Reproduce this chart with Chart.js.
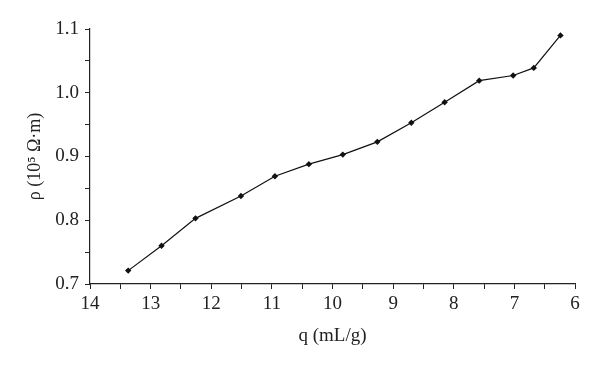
<!DOCTYPE html>
<html>
<head>
<meta charset="utf-8">
<script src="https://cdn.jsdelivr.net/npm/chart.js@4/dist/chart.umd.min.js"></script>
<style>
  html, body { margin: 0; padding: 0; background: #fff; }
  #wrap { width: 600px; height: 367px; }
</style>
</head>
<body>
<div id="wrap"><canvas id="rho-chart"></canvas></div>
<script>
// water content q (mL/g) and resistivity rho (10^5 ohm·m)
const qValues = [13.37, 12.82, 12.26, 11.51, 10.95, 10.39, 9.83, 9.26, 8.70, 8.15, 7.58, 7.02, 6.68, 6.24];
const rhoValues = [0.721, 0.760, 0.803, 0.838, 0.869, 0.888, 0.903, 0.923, 0.953, 0.985, 1.019, 1.027, 1.039, 1.090];
const xTickLabels = ['14', '13', '12', '11', '10', '9', '8', '7', '6'];
const yTickLabels = ['0.7', '0.8', '0.9', '1.0', '1.1'];

const points = qValues.map((q, i) => ({ x: q, y: rhoValues[i] }));
const serif = "'Liberation Serif', 'DejaVu Serif', serif";

const ctx = document.getElementById('rho-chart').getContext('2d');
new Chart(ctx, {
    type: 'scatter',
    data: {
        datasets: [{
            data: points,
            showLine: true,
            borderColor: '#111',
            borderWidth: 1.2,
            backgroundColor: '#111',
            pointStyle: 'rectRot',
            pointRadius: 3.2,
            pointBorderWidth: 0,
        }]
    },
    options: {
        responsive: true,
        maintainAspectRatio: false,
        animation: false,
        layout: { padding: { top: 29, right: 25, left: 20, bottom: 16 } },
        plugins: { legend: { display: false }, tooltip: { enabled: false } },
        scales: {
            x: {
                type: 'linear',
                reverse: true,
                min: 6,
                max: 14,
                grid: { display: true, drawOnChartArea: false, drawTicks: true, tickLength: 5, color: '#222', lineWidth: 1 },
                border: { color: '#222', width: 1.2 },
                afterFit: (axis) => { axis.height = 67; },
                ticks: {
                    stepSize: 0.5,
                    autoSkip: false,
                    maxRotation: 0,
                    color: '#222',
                    padding: 4,
                    font: { family: serif, size: 19 },
                    callback: (v) => {
                        const label = String(v);
                        return xTickLabels.includes(label) ? label : '';
                    }
                },
                title: {
                    display: true,
                    text: 'q (mL/g)',
                    color: '#222',
                    font: { family: serif, size: 19 },
                    padding: { top: 2 }
                }
            },
            y: {
                type: 'linear',
                min: 0.7,
                max: 1.1,
                grid: { display: true, drawOnChartArea: false, drawTicks: true, tickLength: 5, color: '#222', lineWidth: 1 },
                border: { color: '#222', width: 1.2 },
                afterFit: (axis) => { axis.width = 70; },
                ticks: {
                    stepSize: 0.05,
                    autoSkip: false,
                    color: '#222',
                    padding: 6,
                    font: { family: serif, size: 19 },
                    callback: (v) => {
                        const label = (Math.round(v * 100) / 100).toFixed(1);
                        const exact = Math.abs(v * 10 - Math.round(v * 10)) < 1e-6;
                        return exact && yTickLabels.includes(label) ? label : '';
                    }
                },
                title: {
                    display: true,
                    text: 'ρ (10⁵ Ω·m)',
                    color: '#222',
                    font: { family: serif, size: 18 },
                    padding: { bottom: 0 }
                }
            }
        }
    }
});
</script>
</body>
</html>
